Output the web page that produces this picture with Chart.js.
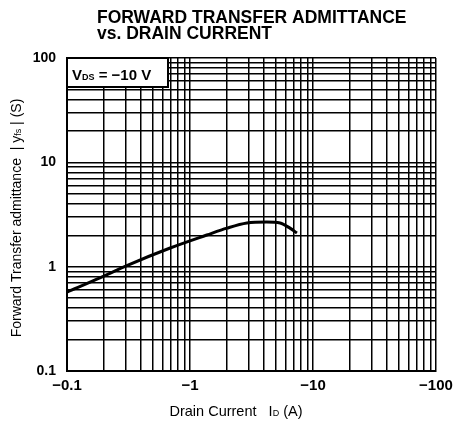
<!DOCTYPE html>
<html>
<head>
<meta charset="utf-8">
<style>
  html, body { margin: 0; padding: 0; background: #fff; }
  #wrap { width: 456px; height: 426px; position: relative; }
</style>
<script src="https://cdn.jsdelivr.net/npm/chart.js@4/dist/chart.umd.min.js"></script>
</head>
<body>
<div id="wrap"><canvas id="yfsChart" width="456" height="426"></canvas></div>
<script>
// drain current (A, negative) and |yfs| (S)
var drainCurrent = [-0.1, -0.185, -0.31, -0.69, -1.37, -2.0, -2.9, -4.2, -5.4, -6.5, -7.4];
var admittance = [0.57, 0.78, 1.03, 1.51, 2.01, 2.34, 2.62, 2.68, 2.62, 2.34, 2.10];

var xDecades = [0.1, 1, 10, 100];
var yDecades = [0.1, 1, 10, 100];
var FONT = "'Liberation Sans', Arial, sans-serif";

function logGrid(decades) {
    var vals = [];
    for (var i = 0; i < decades.length - 1; i++) {
        for (var m = 1; m < 10; m++) {
            vals.push(decades[i] * m);
        }
    }
    vals.push(decades[decades.length - 1]);
    return vals;
}

function isDecade(v) {
    var l = Math.log10(v);
    return Math.abs(l - Math.round(l)) < 1e-9;
}

var points = [];
for (var i = 0; i < drainCurrent.length; i++) {
    points.push({ x: -drainCurrent[i], y: admittance[i] });
}

// text pieces: [text, font, baseline shift]
function drawParts(ctx, parts, x, y, align) {
    var w = 0;
    parts.forEach(function (p) { ctx.font = p[1]; w += ctx.measureText(p[0]).width; });
    var cx = align === 'center' ? x - w / 2 : x;
    ctx.textAlign = 'left';
    ctx.textBaseline = 'alphabetic';
    parts.forEach(function (p) {
        ctx.font = p[1];
        ctx.fillText(p[0], cx, y + (p[2] || 0));
        cx += ctx.measureText(p[0]).width;
    });
}

var labelsPlugin = {
    id: 'labelsPlugin',
    afterDraw: function (chart) {
        var ctx = chart.ctx;
        var a = chart.chartArea;
        ctx.save();
        ctx.fillStyle = '#000';

        // title
        ctx.font = 'bold 17.5px ' + FONT;
        ctx.textAlign = 'left';
        ctx.textBaseline = 'alphabetic';
        ctx.fillText('FORWARD TRANSFER ADMITTANCE', 97, 23);
        ctx.fillText('vs. DRAIN CURRENT', 97, 39);

        // condition box
        ctx.fillStyle = '#fff';
        ctx.fillRect(a.left, a.top, 101, 29);
        ctx.strokeStyle = '#000';
        ctx.lineWidth = 2;
        ctx.strokeRect(a.left, a.top, 101, 29);
        ctx.fillStyle = '#000';
        drawParts(ctx, [
            ['V', 'bold 15px ' + FONT, 0],
            ['DS', 'bold 9px ' + FONT, 0],
            [' = \u221210 V', 'bold 15px ' + FONT, 0]
        ], a.left + 5, a.top + 22, 'left');

        // x axis title
        drawParts(ctx, [
            ['Drain Current   I', '14.5px ' + FONT, 0],
            ['D', '9px ' + FONT, 0],
            [' (A)', '14.5px ' + FONT, 0]
        ], 236, 416, 'center');

        // y axis title
        ctx.translate(21, 218);
        ctx.rotate(-Math.PI / 2);
        drawParts(ctx, [
            ['Forward Transfer admittance  | y', '14px ' + FONT, 0],
            ['fs', '9px ' + FONT, 0],
            [' | (S)', '14px ' + FONT, 0]
        ], 0, 0, 'center');
        ctx.restore();
    }
};

var ctx = document.getElementById('yfsChart').getContext('2d');
var chart = new Chart(ctx, {
    type: 'line',
    data: {
        datasets: [{
            data: points,
            borderColor: '#000',
            borderWidth: 3,
            pointRadius: 0,
            fill: false,
            cubicInterpolationMode: 'monotone'
        }]
    },
    options: {
        responsive: false,
        animation: false,
        layout: { padding: { left: 0, right: 20, top: 58, bottom: 0 } },
        plugins: {
            legend: { display: false },
            tooltip: { enabled: false }
        },
        scales: {
            x: {
                type: 'logarithmic',
                min: 0.1,
                max: 100,
                afterBuildTicks: function (scale) {
                    scale.ticks = logGrid(xDecades).map(function (v) { return { value: v }; });
                },
                afterFit: function (scale) {
                    scale.height = 55;
                    scale.paddingLeft = 0;
                    scale.paddingRight = 0;
                },
                ticks: {
                    autoSkip: false,
                    maxRotation: 0,
                    padding: 6,
                    color: '#000',
                    font: { family: FONT, size: 15, weight: 'bold' },
                    callback: function (v) { return isDecade(v) ? '\u2212' + v : ''; }
                },
                grid: { color: '#000', lineWidth: 1.5, drawTicks: false },
                border: { color: '#000', width: 2 }
            },
            y: {
                type: 'logarithmic',
                min: 0.1,
                max: 100,
                afterBuildTicks: function (scale) {
                    scale.ticks = logGrid(yDecades).map(function (v) { return { value: v }; });
                },
                afterFit: function (scale) {
                    scale.width = 67;
                    scale.paddingTop = 0;
                    scale.paddingBottom = 0;
                },
                ticks: {
                    autoSkip: false,
                    padding: 11,
                    color: '#000',
                    font: { family: FONT, size: 14, weight: 'bold' },
                    callback: function (v) { return isDecade(v) ? String(v) : ''; }
                },
                grid: { color: '#000', lineWidth: 1.5, drawTicks: false },
                border: { color: '#000', width: 2 }
            }
        }
    },
    plugins: [labelsPlugin]
});
</script>
</body>
</html>
